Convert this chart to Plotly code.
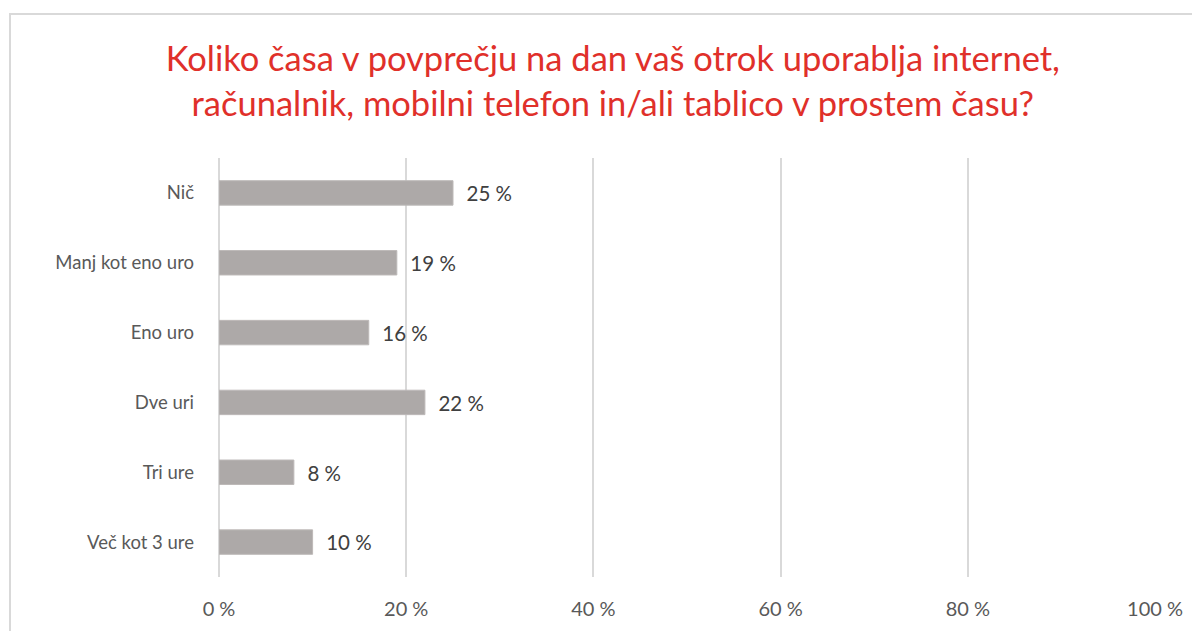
import plotly.graph_objects as go

categories = ["Nič", "Manj kot eno uro", "Eno uro", "Dve uri", "Tri ure", "Več kot 3 ure"]
values = [25, 19, 16, 22, 8, 10]
value_labels = ["25 %", "19 %", "16 %", "22 %", "8 %", "10 %"]
tick_vals = [0, 20, 40, 60, 80, 100]
tick_text = ["0 %", "20 %", "40 %", "60 %", "80 %", "100 %"]

title = ("Koliko časa v povprečju na dan vaš otrok uporablja internet,<br>"
         "računalnik, mobilni telefon in/ali tablico v prostem času?")

FONT = "Lato"

fig = go.Figure(go.Bar(
    x=values, y=categories, orientation="h",
    marker=dict(color="#ADA9A8", line=dict(color="#BDB9B8", width=1)),
    width=0.35,
    text=["  " + t for t in value_labels], textposition="outside",
    textfont=dict(size=21, color="#404040", family=FONT),
    cliponaxis=False,
))

fig.update_layout(
    width=1200, height=631,
    plot_bgcolor="white", paper_bgcolor="white",
    margin=dict(l=211, r=53, t=150, b=62),
    font=dict(family=FONT, color="#595959"),
    title=dict(text=title, x=0.504, xanchor="center", y=0.9, yanchor="middle",
               font=dict(size=34.5, color="#E0302A", family=FONT)),
    showlegend=False,
)

fig.update_xaxes(range=[0, 100], tickvals=tick_vals, ticktext=tick_text,
                 showgrid=True, gridcolor="#D9D9D9", gridwidth=1.5,
                 zeroline=True, zerolinecolor="#D9D9D9", zerolinewidth=1.5,
                 showline=False, ticks="", tickfont=dict(size=20, color="#595959"),
                 ticklabelstandoff=18)
fig.update_yaxes(autorange="reversed", showgrid=False, zeroline=False, showline=False,
                 ticks="", tickfont=dict(size=18.5, color="#595959"), ticklabelstandoff=24)

# outer chart frame (extends past the right and bottom edges)
fig.add_shape(type="rect", xref="paper", yref="paper",
              x0=-0.2233, x1=1.07, y0=-0.25, y1=1.3437,
              line=dict(color="#D9D9D9", width=2), layer="below")

fig.write_html("out.html")
